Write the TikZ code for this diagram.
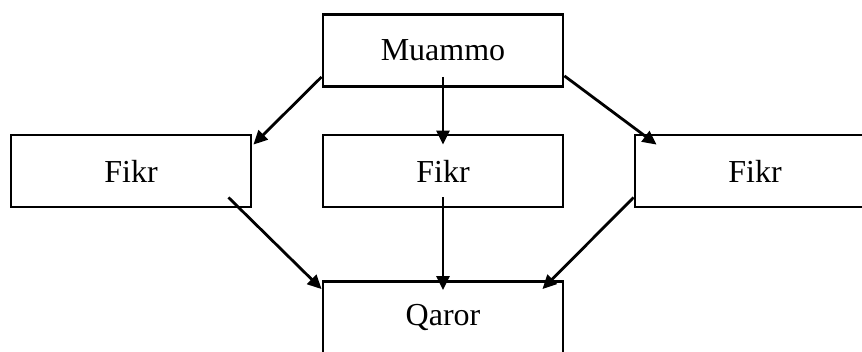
\documentclass[tikz,border=0pt]{standalone}
\usepackage{fontspec}
\setmainfont{Liberation Serif}
\usetikzlibrary{arrows.meta,calc}

\tikzset{
  box/.style={draw, line width=2.8pt, minimum width=240pt, minimum height=72pt,
              inner sep=0pt, font=\fontsize{32}{38}\selectfont},
  flow/.style={line width=2.8pt, -{Triangle[length=14pt,width=13pt]}}
}

\begin{document}
\begin{tikzpicture}[x=1pt,y=-1pt]
  \path[use as bounding box, clip] (0,0) rectangle (862,351);

  % boxes
  \node[box] (mu) at (443,50.5) {Muammo};
  \node[box] (f1) at (131,171) {Fikr};
  \node[box] (f2) at (443,171) {Fikr};
  \node[box] (f3) at (755,171) {Fikr};
  \node[box] (q)  at (443,317.5) {Qaror};

  % problem to ideas
  \draw[flow] ($(mu.south west)+(0,-11)$) -- ($(f1.north east)+(1,11)$);
  \draw[flow] ($(mu.south)+(0,-11)$) -- ($(f2.north)+(0,11)$);
  \draw[flow] ($(mu.south east)+(0,-12)$) -- ($(f3.north west)+(23,11)$);

  % ideas to decision
  \draw[flow] ($(f1.south east)+(-24,-11)$) -- ($(q.north west)+(0,9)$);
  \draw[flow] ($(f2.south)+(0,-11)$) -- ($(q.north)+(0,10)$);
  \draw[flow] ($(f3.south west)+(0,-11)$) -- ($(q.north east)+(-22,9)$);
\end{tikzpicture}
\end{document}
